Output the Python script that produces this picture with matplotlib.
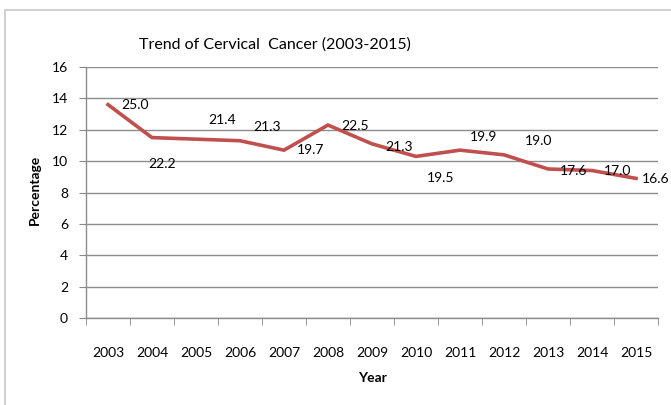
import numpy as np
import matplotlib
matplotlib.use("Agg")
import matplotlib.pyplot as plt
from matplotlib.patches import Rectangle

plt.rcParams['font.family'] = ['Lato', 'DejaVu Sans']

years = ["2003", "2004", "2005", "2006", "2007", "2008", "2009",
         "2010", "2011", "2012", "2013", "2014", "2015"]
# plotted line values (as drawn)
values = [13.6, 11.5, 11.4, 11.3, 10.7, 12.3, 11.1, 10.3, 10.7, 10.4, 9.5, 9.4, 8.9]
# data label texts shown beside points
labels = ["25.0", "22.2", "21.4", "21.3", "19.7", "22.5", "21.3",
          "19.5", "19.9", "19.0", "17.6", "17.0", "16.6"]

# label offsets in pixels (dx, dy)
offsets = [(27, 0), (10, -26), (26, 19), (27, 14), (27, 0), (27, -1), (27, -3),
           (25, -22), (24, 13), (35, 14), (26, -2), (26, 0), (20, -1)]

W, H = 671, 405
fig = plt.figure(figsize=(W / 100, H / 100), dpi=100)
fig.patches.append(Rectangle((5 / W, -0.1), 1.2, 1.1 - 10 / H + 0.0, transform=fig.transFigure,
                             fill=False, edgecolor="#c8c8c8", linewidth=1.2))

ax = fig.add_axes([86 / W, (H - 318) / H, 572 / W, 251 / H])
x = np.arange(len(years))
ax.plot(x, values, color="#C0504D", linewidth=2.6, solid_joinstyle="miter")

for xi, v, lab, (dx, dy) in zip(x, values, labels, offsets):
    ax.annotate(lab, (xi, v), xytext=(dx, dy), textcoords="offset pixels",
                ha="center", va="center", fontsize=10, color="black")

ax.set_xlim(-0.5, len(years) - 0.5)
ax.set_ylim(0, 16)
ax.set_yticks(np.arange(0, 17, 2))
ax.set_xticks(x)
ax.set_xticklabels(years)
ax.set_xticks(np.arange(-0.5, len(years), 1), minor=True)
ax.tick_params(axis="x", which="major", length=0, pad=21, labelsize=10)
ax.tick_params(axis="x", which="minor", length=5, color="#888888", direction="out")
ax.tick_params(axis="y", length=5, color="#888888", direction="out", pad=8, labelsize=10)

ax.grid(axis="y", color="#8c8c8c", linewidth=1)
ax.set_axisbelow(True)
for s in ["top", "right"]:
    ax.spines[s].set_visible(False)
for s in ["left", "bottom"]:
    ax.spines[s].set_color("#8c8c8c")
    ax.spines[s].set_linewidth(1)

fig.text(275 / W, 1 - 45 / H, "Trend of Cervical  Cancer (2003-2015)",
         ha="center", va="center", fontsize=11.5)
fig.text(372 / W, 1 - 378 / H, "Year", ha="center", va="center",
         fontsize=10, fontweight="bold")
fig.text(35 / W, 1 - 190 / H, "Percentage", ha="center", va="center",
         fontsize=10, fontweight="bold", rotation=90)

fig.savefig("out.png", dpi=100)
